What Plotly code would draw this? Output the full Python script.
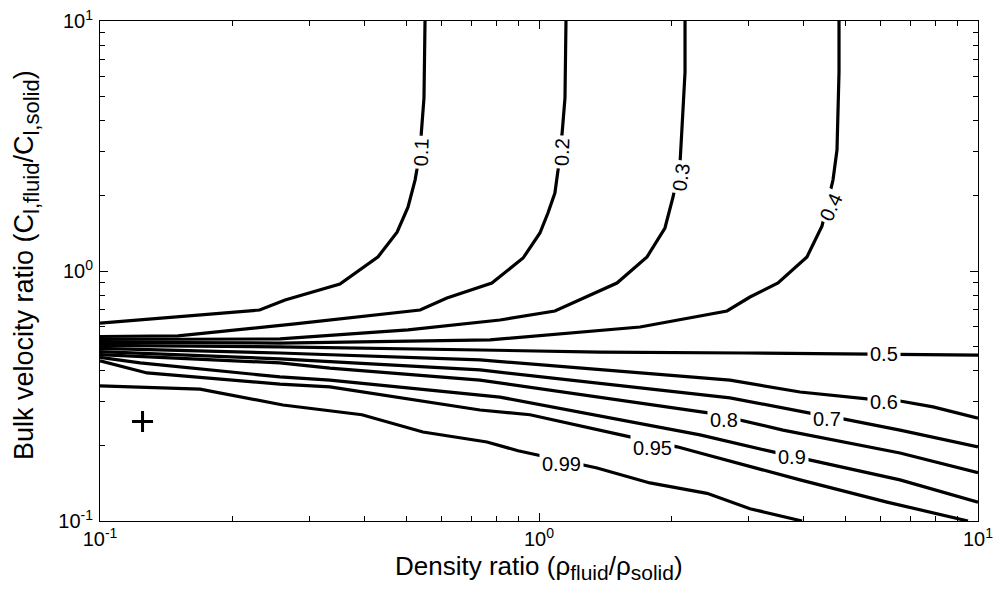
import math
import plotly.graph_objects as go

# Contour levels of the transmission map
levels = [0.1, 0.2, 0.3, 0.4, 0.5, 0.6, 0.7, 0.8, 0.9, 0.95, 0.99]

# Contour paths: density ratio (x) and bulk velocity ratio (y)
x_010 = [0.1, 0.231, 0.264, 0.352, 0.430, 0.475, 0.503, 0.522, 0.527, 0.539, 0.547, 0.550]
y_010 = [0.619, 0.698, 0.766, 0.887, 1.14, 1.43, 1.80, 2.31, 2.54, 3.50, 4.92, 10.0]

x_020 = [0.1, 0.1505, 0.278, 0.536, 0.617, 0.781, 0.920, 1.005, 1.048, 1.087, 1.105, 1.128, 1.146, 1.152]
y_020 = [0.547, 0.550, 0.614, 0.698, 0.780, 0.895, 1.127, 1.419, 1.706, 2.051, 2.535, 3.499, 4.920, 10.0]

x_030 = [0.1, 0.257, 0.503, 0.815, 1.087, 1.505, 1.762, 1.936, 2.020, 2.096, 2.128, 2.151, 2.151]
y_030 = [0.532, 0.535, 0.581, 0.637, 0.692, 0.895, 1.138, 1.486, 1.977, 2.729, 4.406, 6.252, 10.0]

x_040 = [0.1, 0.257, 0.774, 1.699, 2.681, 3.024, 3.503, 4.077, 4.413, 4.674, 4.773, 4.824, 4.824]
y_040 = [0.518, 0.515, 0.530, 0.597, 0.692, 0.787, 0.895, 1.138, 1.514, 2.312, 3.048, 6.252, 10.0]

x_050 = [0.1, 0.257, 0.734, 1.377, 2.946, 10.0]
y_050 = [0.504, 0.497, 0.483, 0.474, 0.470, 0.461]

x_060 = [0.1, 0.257, 0.734, 2.723, 3.932, 5.588, 6.642, 7.899, 10.0]
y_060 = [0.490, 0.470, 0.441, 0.366, 0.328, 0.308, 0.302, 0.286, 0.258]

x_070 = [0.1, 0.257, 0.734, 2.723, 4.142, 4.926, 6.642, 10.0]
y_070 = [0.476, 0.445, 0.402, 0.311, 0.270, 0.256, 0.231, 0.198]

x_080 = [0.1, 0.257, 0.334, 0.734, 2.452, 2.870, 3.596, 6.642, 10.0]
y_080 = [0.463, 0.429, 0.409, 0.366, 0.270, 0.254, 0.231, 0.187, 0.156]

x_090 = [0.1, 0.1234, 0.257, 0.334, 0.815, 2.327, 3.412, 4.142, 6.642, 10.0]
y_090 = [0.451, 0.429, 0.377, 0.366, 0.313, 0.221, 0.189, 0.175, 0.146, 0.119]

x_095 = [0.1, 0.128, 0.257, 0.334, 0.734, 0.954, 1.612, 2.063, 2.327, 3.932, 6.204, 9.489]
y_095 = [0.437, 0.391, 0.353, 0.344, 0.278, 0.266, 0.217, 0.198, 0.187, 0.146, 0.119, 0.100]

x_099 = [0.1, 0.169, 0.261, 0.395, 0.544, 0.761, 0.896, 1.356, 1.789, 2.414, 3.024, 3.974]
y_099 = [0.347, 0.337, 0.291, 0.266, 0.227, 0.207, 0.191, 0.163, 0.142, 0.129, 0.112, 0.100]

# Inline label placement for each level
label_x = [0.539, 1.128, 2.107, 4.625, 6.107, 6.107, 4.529, 2.639, 3.770, 1.818, 1.128]
label_y = [2.992, 2.992, 2.377, 1.803, 0.466, 0.299, 0.256, 0.254, 0.180, 0.196, 0.169]
label_angle = [-88, -88, -82, -65, 0, 0, 0, 0, 0, 0, 0]

# Reference point marked with a cross
point_x = [0.125]
point_y = [0.25]

paths_x = [x_010, x_020, x_030, x_040, x_050, x_060, x_070, x_080, x_090, x_095, x_099]
paths_y = [y_010, y_020, y_030, y_040, y_050, y_060, y_070, y_080, y_090, y_095, y_099]

FONT = "Liberation Sans, Arial, sans-serif"

fig = go.Figure()
for xs, ys in zip(paths_x, paths_y):
    fig.add_trace(go.Scatter(
        x=xs, y=ys, mode="lines",
        line=dict(color="black", width=3.2),
        showlegend=False, hoverinfo="skip",
    ))

fig.add_trace(go.Scatter(
    x=point_x, y=point_y, mode="markers",
    marker=dict(symbol="cross-thin", size=15, line=dict(width=3, color="black")),
    showlegend=False, hoverinfo="skip",
))

for lvl, lx, ly, ang in zip(levels, label_x, label_y, label_angle):
    fig.add_annotation(
        x=math.log10(lx), y=math.log10(ly), xref="x", yref="y",
        text=f"{lvl:g}", showarrow=False, textangle=ang,
        font=dict(family=FONT, size=20, color="black"),
        bgcolor="white", borderpad=2,
    )


def sub(s, px):
    return f"<sub><span style='font-size:{px}px'>{s}</span></sub>"


# Axis titles
fig.add_annotation(
    xref="paper", yref="paper", x=0.5, y=0, yanchor="top", yshift=-28,
    text="Density ratio (\u03c1" + sub("fluid", 21) + "/\u03c1" + sub("solid", 21) + ")",
    showarrow=False, font=dict(family=FONT, size=26, color="black"),
)
fig.add_annotation(
    xref="paper", yref="paper", x=0, y=0.5, xanchor="center", xshift=-74, yshift=6,
    textangle=-90,
    text="Bulk velocity ratio (C" + sub("l,fluid", 22) + "/C" + sub("l,solid", 22) + ")",
    showarrow=False, font=dict(family=FONT, size=27, color="black"),
)

minor_vals = [m * 10 ** e for e in (-1, 0) for m in range(2, 10)]
major_vals = [0.1, 1, 10]
major_text = ["10<sup>-1</sup>", "10<sup>0</sup>", "10<sup>1</sup>"]

axis_common = dict(
    type="log", range=[-1, 1], automargin=False, ticklabeloverflow="allow",
    showline=True, linecolor="black", linewidth=1, mirror="ticks",
    ticks="inside", ticklen=8, tickwidth=1, tickcolor="black",
    tickvals=major_vals, ticktext=major_text,
    tickfont=dict(family=FONT, size=20, color="black"),
    minor=dict(ticks="inside", ticklen=5, tickwidth=1, tickcolor="black", tickvals=minor_vals),
    showgrid=False, zeroline=False,
)

fig.update_layout(
    width=993, height=592,
    margin=dict(l=100, r=15, t=21, b=71),
    paper_bgcolor="white", plot_bgcolor="white",
    font=dict(family=FONT, color="black"),
    xaxis=axis_common,
    yaxis=dict(axis_common, ticklabelstandoff=2),
)

fig.write_html("out.html")
